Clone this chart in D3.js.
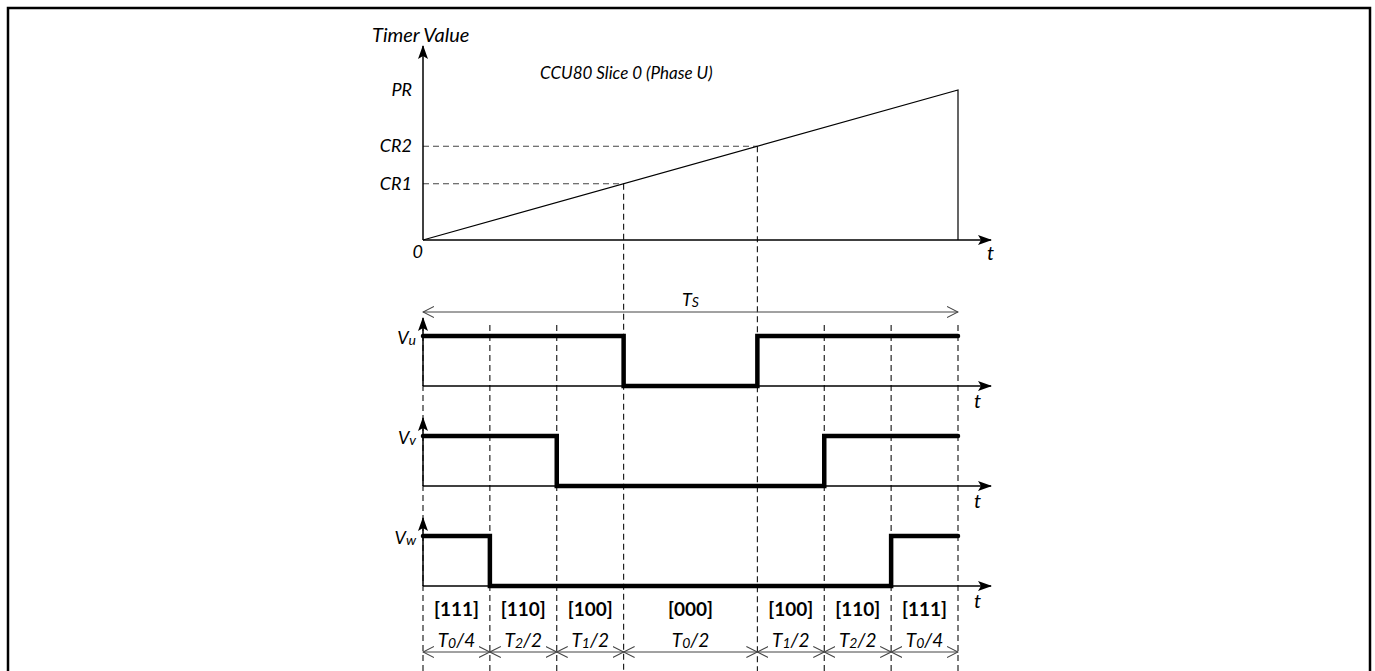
<!DOCTYPE html>
<html>
<head>
<meta charset="utf-8">
<script src="https://cdn.jsdelivr.net/npm/d3@7"></script>
<style>
  body { margin: 0; background: #fff; }
  text { font-family: Lato, "Open Sans", sans-serif; fill: #000; }
</style>
</head>
<body>
<svg id="chart" width="1375" height="671"></svg>
<script>
// time axis in units of T0/4
const segEdges = [0, 1, 2, 3, 5, 6, 7, 8];
const vectors = ["111", "110", "100", "000", "100", "110", "111"];
const durSub = ["0", "2", "1", "0", "1", "2", "0"];
const durTail = ["/4", "/2", "/2", "/2", "/2", "/2", "/4"];
const phases = ["u", "v", "w"];
const timerRamp = [[0, 0], [8, 100]];
const compareLevels = [
    {name: "CR1", value: 37.5, t: 3},
    {name: "CR2", value: 62.5, t: 5}
];
const periodLevel = {name: "PR", value: 100};

const svg = d3.select("#chart");

const x = d3.scaleLinear().domain([0, 8]).range([423, 958]);
const yTimer = d3.scaleLinear().domain([0, 100]).range([240, 90]);
const yPanel = d3.scaleLinear().domain([0, 2]).range([386, 586]);
const level = d3.scaleLinear().domain([0, 1]).range([0, -50]);

const FS = 18, SUB = 14;

// frame
svg.append("path")
    .attr("d", "M8,671V8H1370V671")
    .attr("fill", "none")
    .attr("stroke", "#000")
    .attr("stroke-width", 2.5);

// markers
const defs = svg.append("defs");
defs.append("marker")
    .attr("id", "tip")
    .attr("markerUnits", "userSpaceOnUse")
    .attr("viewBox", "0 0 14 10")
    .attr("markerWidth", 14).attr("markerHeight", 10)
    .attr("refX", 13).attr("refY", 5)
    .attr("orient", "auto")
    .append("path").attr("d", "M0,0L14,5L0,10L3,5z").attr("fill", "#000");
defs.append("marker")
    .attr("id", "open")
    .attr("markerUnits", "userSpaceOnUse")
    .attr("viewBox", "0 0 12 12")
    .attr("markerWidth", 12).attr("markerHeight", 12)
    .attr("refX", 11).attr("refY", 6)
    .attr("orient", "auto-start-reverse")
    .append("path").attr("d", "M0,0.5L11,6L0,11.5")
    .attr("fill", "none").attr("stroke", "#444").attr("stroke-width", 1.1);

// dashed guides
const dashTop = t => {
    const cr = compareLevels.find(c => c.t === t);
    return cr ? yTimer(cr.value) : 325;
};
svg.append("g").selectAll("line")
    .data(segEdges)
    .join("line")
    .attr("x1", d => x(d)).attr("x2", d => x(d))
    .attr("y1", d => dashTop(d)).attr("y2", 671)
    .attr("stroke", "#111").attr("stroke-width", 1.1)
    .attr("stroke-dasharray", "6,4");

svg.append("g").selectAll("line")
    .data(compareLevels)
    .join("line")
    .attr("x1", x(0)).attr("x2", d => x(d.t))
    .attr("y1", d => yTimer(d.value)).attr("y2", d => yTimer(d.value))
    .attr("stroke", "#444").attr("stroke-width", 1.1)
    .attr("stroke-dasharray", "6,4");

// timer chart
const timerG = svg.append("g");
timerG.append("line")
    .attr("x1", x(0)).attr("x2", x(0))
    .attr("y1", yTimer(0)).attr("y2", 46)
    .attr("stroke", "#000").attr("stroke-width", 1.5)
    .attr("marker-end", "url(#tip)");
timerG.append("line")
    .attr("x1", x(0)).attr("x2", x(8) + 33)
    .attr("y1", yTimer(0)).attr("y2", yTimer(0))
    .attr("stroke", "#000").attr("stroke-width", 1.5)
    .attr("marker-end", "url(#tip)");
timerG.append("path")
    .attr("d", d3.line().x(d => x(d[0])).y(d => yTimer(d[1]))(timerRamp.concat([[8, 0]])))
    .attr("fill", "none").attr("stroke", "#000").attr("stroke-width", 1.2);

timerG.append("text").attr("x", 372).attr("y", 42)
    .attr("font-size", 20).attr("font-style", "italic").text("Timer Value");
timerG.append("text").attr("x", 540).attr("y", 79)
    .attr("font-size", FS - 1).attr("font-style", "italic").text("CCU80 Slice 0 (Phase U)");
timerG.selectAll(".lvl")
    .data(compareLevels.concat([periodLevel]))
    .join("text")
    .attr("class", "lvl")
    .attr("x", 412).attr("y", d => yTimer(d.value) + 6)
    .attr("text-anchor", "end")
    .attr("font-size", FS).attr("font-style", "italic")
    .text(d => d.name);
timerG.append("text").attr("x", 423).attr("y", yTimer(0) + 18)
    .attr("text-anchor", "end").attr("font-size", FS).attr("font-style", "italic").text("0");
timerG.append("text").attr("x", x(8) + 29).attr("y", yTimer(0) + 20)
    .attr("font-size", 20).attr("font-style", "italic").text("t");

// Ts span
svg.append("line")
    .attr("x1", x(0)).attr("x2", x(8))
    .attr("y1", 312).attr("y2", 312)
    .attr("stroke", "#444").attr("stroke-width", 1)
    .attr("marker-start", "url(#open)").attr("marker-end", "url(#open)");
const ts = svg.append("text").attr("x", 682).attr("y", 306)
    .attr("font-size", FS).attr("font-style", "italic");
ts.append("tspan").text("T");
ts.append("tspan").attr("font-size", SUB).attr("dy", 1).text("S");

// phase panels
const wave = d3.line()
    .x(d => x(d[0]))
    .y(d => d[2] + level(d[1]))
    .curve(d3.curveStepAfter);

phases.forEach((p, i) => {
    const base = yPanel(i);
    const g = svg.append("g");
    g.append("line")
        .attr("x1", x(0)).attr("x2", x(0))
        .attr("y1", base).attr("y2", base - 68)
        .attr("stroke", "#000").attr("stroke-width", 1.5)
        .attr("marker-end", "url(#tip)");
    g.append("line")
        .attr("x1", x(0)).attr("x2", x(8) + 33)
        .attr("y1", base).attr("y2", base)
        .attr("stroke", "#000").attr("stroke-width", 1.5)
        .attr("marker-end", "url(#tip)");
    const pts = vectors.map((v, k) => [segEdges[k], +v[i], base]);
    pts.push([8, +vectors[vectors.length - 1][i], base]);
    g.append("path")
        .attr("d", wave(pts))
        .attr("fill", "none").attr("stroke", "#000").attr("stroke-width", 4.5)
        .attr("stroke-linecap", "round").attr("stroke-linejoin", "miter");
    const lab = g.append("text").attr("x", 416).attr("y", base + level(1) + 8)
        .attr("text-anchor", "end")
        .attr("font-size", FS).attr("font-style", "italic");
    lab.append("tspan").text("V");
    lab.append("tspan").attr("font-size", SUB).attr("dy", 1).text(p);
    g.append("text").attr("x", x(8) + 16).attr("y", base + 22)
        .attr("font-size", 20).attr("font-style", "italic").text("t");
});

// switching vectors and durations
const mids = vectors.map((v, k) => (segEdges[k] + segEdges[k + 1]) / 2);
svg.append("g").selectAll("text")
    .data(vectors)
    .join("text")
    .attr("x", (d, k) => x(mids[k])).attr("y", 616)
    .attr("text-anchor", "middle")
    .attr("font-size", FS + 1).attr("font-weight", "bold")
    .text(d => "[" + d + "]");

svg.append("g").selectAll("line")
    .data(vectors)
    .join("line")
    .attr("x1", (d, k) => x(segEdges[k])).attr("x2", (d, k) => x(segEdges[k + 1]))
    .attr("y1", 652).attr("y2", 652)
    .attr("stroke", "#444").attr("stroke-width", 1)
    .attr("marker-start", "url(#open)").attr("marker-end", "url(#open)");

svg.append("g").selectAll("text")
    .data(vectors)
    .join("text")
    .attr("x", (d, k) => x(mids[k])).attr("y", 647)
    .attr("text-anchor", "middle")
    .attr("font-size", FS + 1).attr("font-style", "italic")
    .each(function (d, k) {
        const t = d3.select(this);
        t.append("tspan").text("T");
        t.append("tspan").attr("font-size", SUB).attr("dy", 1).text(durSub[k]);
        t.append("tspan").attr("dy", -1).text(durTail[k]);
    });
</script>
</body>
</html>
